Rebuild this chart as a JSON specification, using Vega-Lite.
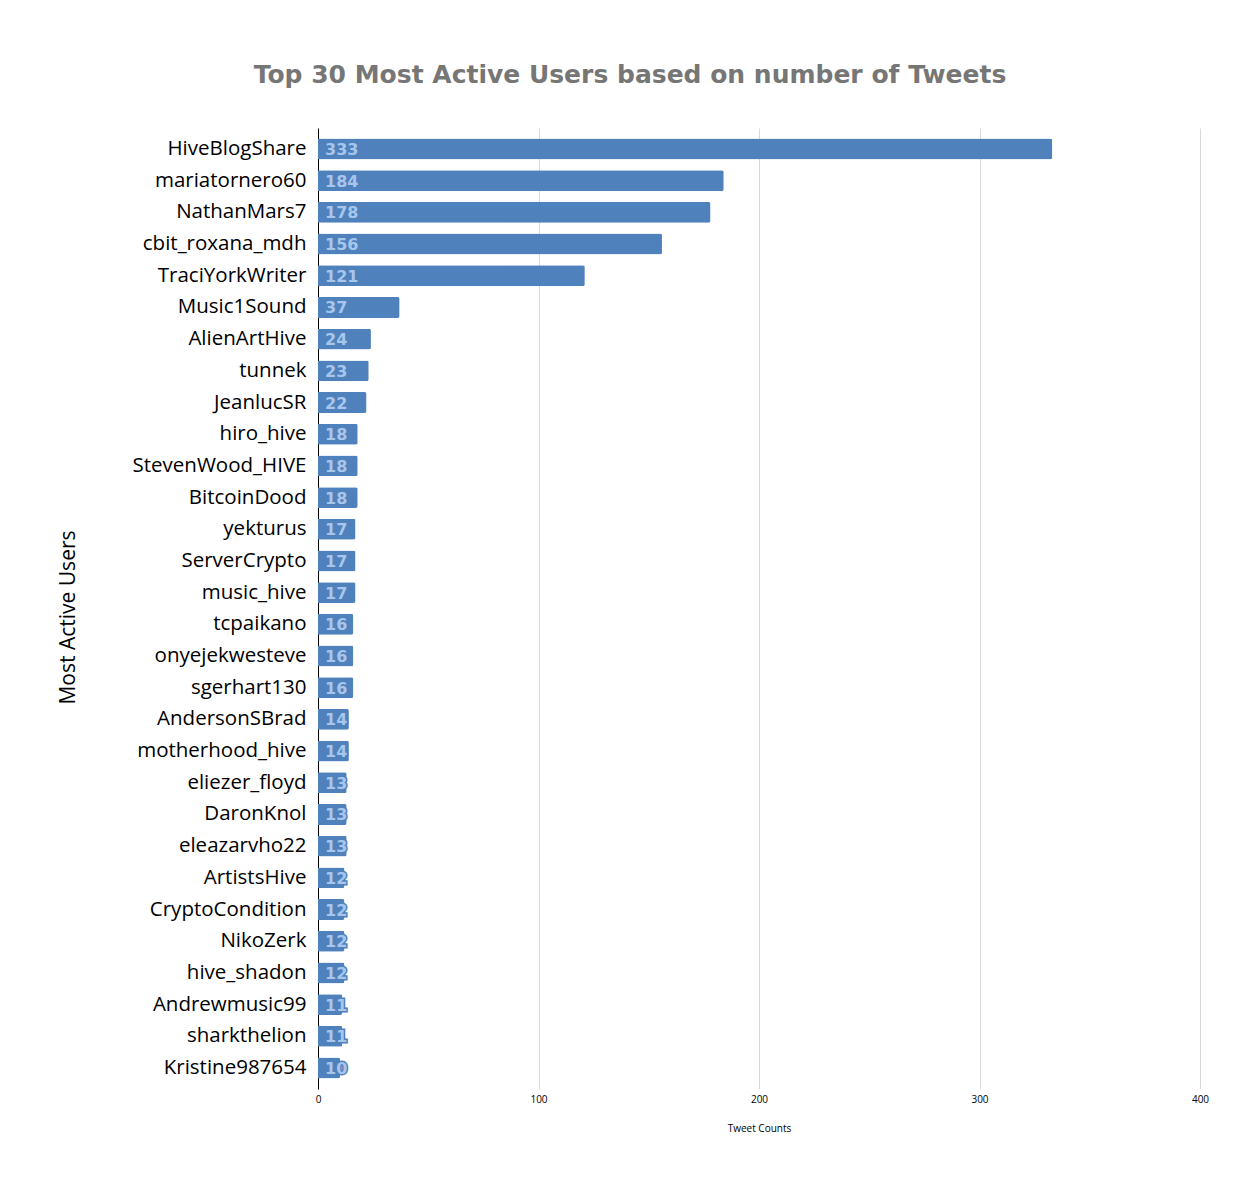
{
  "$schema": "https://vega.github.io/schema/vega-lite/v6.json",
  "autosize": "none",
  "width": 882,
  "height": 961,
  "padding": {"left": 318, "top": 128, "right": 60, "bottom": 108},
  "background": "white",
  "title": {
    "text": "Top 30 Most Active Users based on number of Tweets",
    "font": "DejaVu Sans",
    "fontSize": 25,
    "fontWeight": "bold",
    "color": "#767676",
    "anchor": "middle",
    "dx": -129,
    "offset": 40
  },
  "data": {
    "values": [
      {"user": "HiveBlogShare", "tweets": 333},
      {"user": "mariatornero60", "tweets": 184},
      {"user": "NathanMars7", "tweets": 178},
      {"user": "cbit_roxana_mdh", "tweets": 156},
      {"user": "TraciYorkWriter", "tweets": 121},
      {"user": "Music1Sound", "tweets": 37},
      {"user": "AlienArtHive", "tweets": 24},
      {"user": "tunnek", "tweets": 23},
      {"user": "JeanlucSR", "tweets": 22},
      {"user": "hiro_hive", "tweets": 18},
      {"user": "StevenWood_HIVE", "tweets": 18},
      {"user": "BitcoinDood", "tweets": 18},
      {"user": "yekturus", "tweets": 17},
      {"user": "ServerCrypto", "tweets": 17},
      {"user": "music_hive", "tweets": 17},
      {"user": "tcpaikano", "tweets": 16},
      {"user": "onyejekwesteve", "tweets": 16},
      {"user": "sgerhart130", "tweets": 16},
      {"user": "AndersonSBrad", "tweets": 14},
      {"user": "motherhood_hive", "tweets": 14},
      {"user": "eliezer_floyd", "tweets": 13},
      {"user": "DaronKnol", "tweets": 13},
      {"user": "eleazarvho22", "tweets": 13},
      {"user": "ArtistsHive", "tweets": 12},
      {"user": "CryptoCondition", "tweets": 12},
      {"user": "NikoZerk", "tweets": 12},
      {"user": "hive_shadon", "tweets": 12},
      {"user": "Andrewmusic99", "tweets": 11},
      {"user": "sharkthelion", "tweets": 11},
      {"user": "Kristine987654", "tweets": 10}
    ]
  },
  "encoding": {
    "y": {
      "field": "user",
      "type": "nominal",
      "sort": null,
      "title": "Most Active Users",
      "scale": {"paddingInner": 0.34, "paddingOuter": 0.333},
      "axis": {
        "labelFont": "Open Sans",
        "labelFontSize": 20.5,
        "labelColor": "#000000",
        "labelPadding": 12,
        "ticks": false,
        "domain": true,
        "domainColor": "#000000",
        "titleFont": "Open Sans",
        "titleFontSize": 21,
        "titleFontWeight": "normal",
        "titleColor": "#000000",
        "titleX": -240,
        "titleY": 489
      }
    }
  },
  "layer": [
    {
      "mark": {"type": "bar", "color": "#4F81BD", "cornerRadiusEnd": 2},
      "encoding": {
        "x": {
          "field": "tweets",
          "type": "quantitative",
          "title": "Tweet Counts",
          "scale": {"domain": [0, 400]},
          "axis": {
            "values": [0, 100, 200, 300, 400],
            "grid": true,
            "gridColor": "#d9d9d9",
            "domain": false,
            "ticks": false,
            "labelFlush": false,
            "labelFont": "Open Sans",
            "labelFontSize": 10,
            "labelColor": "#000000",
            "labelPadding": 5,
            "titleFont": "Open Sans",
            "titleFontSize": 10,
            "titleFontWeight": "normal",
            "titleColor": "#000000",
            "titlePadding": 19
          }
        }
      }
    },
    {
      "mark": {
        "type": "text",
        "align": "left",
        "baseline": "middle",
        "dx": 7,
        "dy": 1,
        "font": "DejaVu Sans",
        "fontSize": 16,
        "fontWeight": "bold",
        "fill": "#4F81BD",
        "stroke": "#4F81BD",
        "strokeWidth": 3
      },
      "encoding": {
        "x": {"datum": 0, "type": "quantitative"},
        "text": {"field": "tweets", "type": "quantitative"}
      }
    },
    {
      "mark": {
        "type": "text",
        "align": "left",
        "baseline": "middle",
        "dx": 7,
        "dy": 1,
        "font": "DejaVu Sans",
        "fontSize": 16,
        "fontWeight": "bold",
        "color": "#A8C6EC"
      },
      "encoding": {
        "x": {"datum": 0, "type": "quantitative"},
        "text": {"field": "tweets", "type": "quantitative"}
      }
    }
  ],
  "config": {
    "view": {"stroke": null}
  }
}
